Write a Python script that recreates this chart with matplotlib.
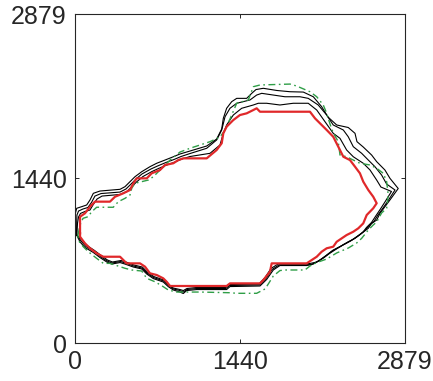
import numpy as np
import matplotlib
matplotlib.use('Agg')
import matplotlib.pyplot as plt

plt.rcParams['font.family'] = ['Liberation Sans', 'DejaVu Sans']

lim = 2879
ticks = [0, 1440, 2879]

# red contour (thick)
red_x = [44, 44, 87, 131, 174, 305, 349, 421, 480, 509, 538, 626, 669, 742, 785, 858, 901, 945,
         1149, 1236, 1280, 1294, 1323, 1381, 1439, 1498, 1556, 1585, 1614, 2050, 2094, 2137, 2196,
         2253, 2297, 2341, 2399, 2443, 2486, 2515, 2559, 2602, 2632, 2602, 2545, 2515, 2472, 2428,
         2370, 2327, 2283, 2253, 2196, 2152, 2109, 2021, 1716, 1701, 1643, 1614, 1352, 1323, 829,
         800, 770, 713, 654, 611, 567, 451, 393, 247, 189, 131, 87, 44, 44]
red_y = [960, 1105, 1135, 1193, 1237, 1237, 1280, 1310, 1339, 1397, 1441, 1441, 1485, 1514, 1558,
         1573, 1601, 1616, 1616, 1689, 1748, 1835, 1893, 1951, 1995, 2010, 2039, 2054, 2024, 2024,
         1966, 1923, 1864, 1805, 1718, 1630, 1601, 1543, 1485, 1412, 1339, 1280, 1223, 1179, 1120,
         1047, 1004, 974, 945, 916, 886, 843, 829, 799, 755, 697, 697, 624, 551, 522, 522, 499, 499,
         536, 566, 595, 610, 668, 697, 697, 755, 755, 785, 829, 872, 930, 960]

# black contours (thin)
blk1_x = [15, 4, 4, 15, 58, 102, 131, 160, 218, 393, 436, 480, 523, 582, 654, 713, 785, 858, 916,
          1003, 1149, 1236, 1280, 1294, 1323, 1367, 1411, 1498, 1542, 1579, 1643, 1760, 1876, 1992,
          2079, 2152, 2207, 2283, 2384, 2443, 2460, 2515, 2588, 2632, 2704, 2748, 2820, 2748, 2704,
          2661, 2632, 2588, 2559, 2501, 2443, 2384, 2312, 2253, 2196, 2137, 2079, 2021, 1788, 1730,
          1672, 1614, 1352, 1323, 1062, 974, 945, 916, 858, 814, 770, 683, 626, 582, 509, 436, 393,
          320, 277, 218, 160, 87, 44, 15]
blk1_y = [945, 1059, 1138, 1179, 1193, 1208, 1252, 1310, 1330, 1345, 1368, 1412, 1455, 1499, 1543,
          1573, 1601, 1630, 1654, 1680, 1724, 1785, 1873, 1966, 2054, 2112, 2141, 2141, 2185, 2218,
          2229, 2210, 2199, 2196, 2155, 2068, 1978, 1908, 1886, 1835, 1762, 1715, 1645, 1587, 1514,
          1441, 1352, 1252, 1193, 1135, 1076, 1047, 1004, 960, 916, 886, 843, 814, 770, 726, 691,
          678, 678, 639, 556, 499, 494, 468, 468, 459, 433, 446, 464, 493, 534, 564, 604, 648, 665,
          691, 704, 691, 709, 748, 792, 836, 884, 945]

blk2_x = [15, 15, 17, 31, 70, 113, 144, 174, 227, 393, 445, 489, 532, 584, 663, 720, 794, 864, 925,
          1003, 1149, 1236, 1280, 1309, 1352, 1411, 1527, 1585, 1629, 1730, 1832, 1963, 2035, 2122,
          2196, 2253, 2341, 2384, 2428, 2501, 2559, 2617, 2675, 2719, 2792, 2730, 2687, 2643, 2608,
          2565, 2534, 2482, 2425, 2364, 2298, 2238, 2181, 2124, 2063, 2006, 1780, 1719, 1666, 1610,
          1348, 1317, 1062, 977, 945, 916, 858, 816, 772, 685, 628, 584, 510, 441, 397, 323, 279,
          222, 166, 96, 52, 15]
blk2_y = [945, 1059, 1120, 1155, 1173, 1186, 1230, 1286, 1308, 1321, 1348, 1391, 1435, 1479, 1523,
          1549, 1580, 1606, 1632, 1658, 1704, 1777, 1864, 1980, 2054, 2098, 2127, 2170, 2185, 2170,
          2155, 2155, 2141, 2083, 1995, 1908, 1864, 1805, 1718, 1660, 1601, 1543, 1470, 1391, 1339,
          1243, 1181, 1120, 1063, 1028, 989, 945, 906, 871, 836, 801, 757, 718, 687, 683, 683, 643,
          564, 508, 503, 477, 477, 468, 446, 459, 473, 503, 543, 573, 613, 656, 674, 700, 713, 700,
          718, 757, 801, 844, 893, 945]

blk3_x = [15, 22, 31, 48, 87, 131, 157, 192, 236, 393, 454, 497, 541, 593, 672, 728, 802, 872, 933,
          1003, 1178, 1265, 1294, 1323, 1381, 1454, 1556, 1599, 1672, 1788, 1904, 2035, 2109, 2181,
          2253, 2312, 2370, 2428, 2515, 2574, 2632, 2669, 2761, 2704, 2665, 2621, 2587, 2543, 2513,
          2460, 2404, 2343, 2281, 2220, 2168, 2111, 2050, 1998, 1771, 1710, 1658, 1605, 1343, 1313,
          1062, 977, 945, 916, 858, 818, 775, 687, 631, 587, 513, 445, 401, 327, 284, 227, 170, 105,
          61, 15]
blk3_y = [945, 1050, 1103, 1134, 1151, 1164, 1208, 1260, 1286, 1300, 1326, 1370, 1413, 1457, 1501,
          1527, 1558, 1584, 1610, 1632, 1660, 1733, 1835, 1908, 1995, 2054, 2083, 2098, 2098, 2083,
          2098, 2098, 2039, 1937, 1835, 1791, 1689, 1630, 1573, 1514, 1426, 1365, 1326, 1234, 1173,
          1107, 1055, 1011, 971, 932, 893, 862, 823, 783, 744, 709, 696, 691, 691, 652, 573, 516,
          512, 486, 486, 477, 459, 468, 481, 512, 551, 582, 621, 665, 683, 709, 722, 709, 726, 766,
          810, 853, 901, 945]

# green dash-dot contour
grn_x = [26, 44, 70, 113, 146, 189, 334, 378, 436, 480, 495, 523, 582, 639, 683, 727, 770, 829, 916,
         1003, 1091, 1178, 1265, 1309, 1352, 1411, 1512, 1556, 1614, 1876, 1934, 2050, 2109, 2166,
         2196, 2225, 2253, 2297, 2312, 2370, 2428, 2486, 2574, 2632, 2690, 2719, 2733, 2719, 2675,
         2632, 2602, 2559, 2501, 2457, 2384, 2283, 2196, 2109, 2050, 2006, 1832, 1788, 1730, 1686,
         1658, 1585, 1411, 1352, 1091, 887, 814, 770, 698, 626, 582, 495, 436, 305, 247, 189, 116,
         72, 26, 26]
grn_y = [945, 1033, 1091, 1105, 1149, 1188, 1188, 1237, 1266, 1295, 1354, 1398, 1412, 1426, 1455,
         1499, 1538, 1601, 1671, 1704, 1733, 1762, 1803, 1864, 1960, 2098, 2127, 2243, 2258, 2266,
         2249, 2199, 2155, 2083, 2010, 1916, 1838, 1762, 1645, 1630, 1601, 1573, 1558, 1529, 1485,
         1412, 1295, 1179, 1138, 1059, 1033, 989, 916, 875, 831, 788, 735, 704, 674, 639, 639, 634,
         586, 516, 473, 435, 435, 440, 446, 446, 464, 493, 536, 566, 630, 639, 654, 697, 697, 741,
         799, 843, 901, 945]

fig = plt.figure(figsize=(4.33, 3.81), dpi=100)
ax = fig.add_axes([0.1732, 0.0997, 0.7621, 0.8635])

for bx, by in [(blk1_x, blk1_y), (blk2_x, blk2_y), (blk3_x, blk3_y)]:
    ax.plot(bx, by, color='black', lw=0.8)
ax.plot(grn_x, grn_y, color='#2f9e47', lw=1.0, dashes=[5, 2.5, 1.2, 2.5])
ax.plot(red_x, red_y, color='#e0282a', lw=1.6)

ax.set_xlim(0, lim)
ax.set_ylim(0, lim)
ax.set_xticks(ticks)
ax.set_yticks(ticks)
ax.set_xticklabels([str(t) for t in ticks])
ax.set_yticklabels([str(t) for t in ticks])
ax.tick_params(direction='in', length=3, width=0.7, labelsize=18, colors='#262626',
               top=True, right=True)
ax.tick_params(axis='y', pad=6)
ax.tick_params(axis='x', pad=5)
for s in ax.spines.values():
    s.set_color('#262626')
    s.set_linewidth(0.8)

fig.savefig('out.png', dpi=100)
